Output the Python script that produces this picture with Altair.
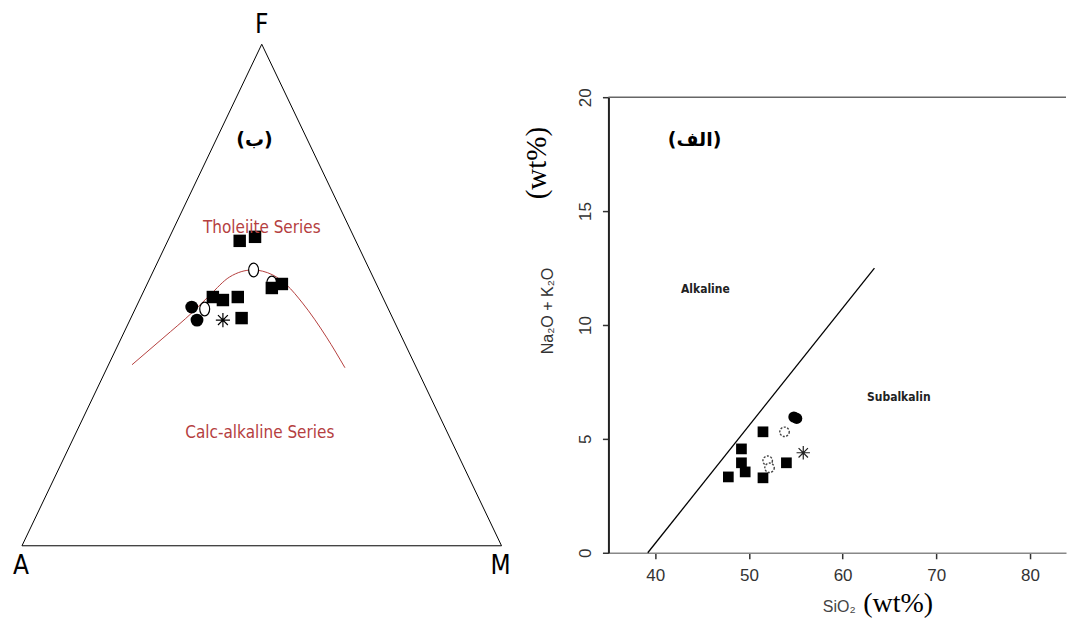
import altair as alt
import pandas as pd

# ---------------- AFM ternary diagram (percent A, F, M) ----------------
# Tholeiitic / calc-alkaline boundary curve
curve_A = [59.0, 49.9, 41.1, 35.8, 29.9, 24.4, 20.7, 18.8, 17.3, 15.7, 14.9]
curve_F = [36.1, 41.4, 46.6, 50.0, 53.6, 55.0, 54.0, 52.0, 48.4, 41.6, 35.5]
curve_M = [4.9, 8.7, 12.3, 14.2, 16.5, 20.6, 25.3, 29.2, 34.3, 42.7, 49.6]

# samples
sq_A = [24.2, 20.6, 22.2, 19.7, 35.4, 33.6, 30.2, 31.5]
sq_F = [60.8, 61.6, 51.4, 52.2, 49.6, 49.0, 49.6, 45.4]
sq_M = [15.0, 17.8, 26.4, 28.1, 15.0, 17.4, 20.2, 23.1]

dot_A = [40.8, 41.0]
dot_F = [47.6, 45.0]
dot_M = [11.6, 14.0]

ring_A = [21.7, 24.2, 38.3]
ring_F = [52.4, 55.0, 47.2]
ring_M = [25.9, 20.8, 14.5]

star_A = [35.6]
star_F = [45.0]
star_M = [19.4]

# triangle corners A -> M -> F -> A
tri_A = [100, 0, 0, 100]
tri_F = [0, 0, 100, 0]
tri_M = [0, 100, 0, 0]

# ---------------- SiO2 vs total alkali diagram ----------------
sq_si = [51.5, 49.2, 49.2, 49.6, 54.0, 47.8, 51.5]
sq_alk = [5.31, 4.56, 3.95, 3.55, 3.95, 3.33, 3.29]
dot_si = [54.8, 55.1]
dot_alk = [5.96, 5.90]
ring_si = [53.8, 52.0, 52.2]
ring_alk = [5.31, 4.04, 3.73]
star_si = [55.8]
star_alk = [4.39]
divide_si = [39.2, 63.4]
divide_alk = [0.0, 12.5]

x_ticks = [40, 50, 60, 70, 80]
y_ticks = [0, 5, 10, 15, 20]

NARROW = "Liberation Sans Narrow, DejaVu Sans Condensed, sans-serif"
SANS = "Liberation Sans, Arial, sans-serif"
SERIF = "Liberation Serif, DejaVu Serif, serif"
ARABIC = "DejaVu Sans, Noto Sans, sans-serif"
RED = "#b5403f"

STAR = "M0,-1L0,1M-1,0L1,0M-0.7,-0.7L0.7,0.7M-0.7,0.7L0.7,-0.7"
OVAL = "M0,-1A0.72,1 0 1,0 0,1A0.72,1 0 1,0 0,-1Z"


def afm(A, F, M):
    df = pd.DataFrame({"A": A, "F": F, "M": M})
    tot = df["A"] + df["F"] + df["M"]
    df["x"] = (df["M"] + df["F"] / 2) / tot
    df["y"] = df["F"] / tot
    df["o"] = range(len(df))
    return df


xs = alt.Scale(domain=[0, 1], range=[22, 502], nice=False, zero=False)
ys = alt.Scale(domain=[0, 1], range=[546, 44], nice=False, zero=False)
X = alt.X("x:Q", scale=xs, axis=None)
Y = alt.Y("y:Q", scale=ys, axis=None)

tri = alt.Chart(afm(tri_A, tri_F, tri_M)).mark_line(
    color="black", strokeWidth=1, strokeJoin="miter"
).encode(x=X, y=Y, order="o:Q")

curve = alt.Chart(afm(curve_A, curve_F, curve_M)).mark_line(
    color=RED, strokeWidth=1, interpolate="monotone"
).encode(x=X, y=Y, order="o:Q")

rings_l = alt.Chart(afm(ring_A, ring_F, ring_M)).mark_point(
    shape=OVAL, size=190, filled=True, fill="white", stroke="black",
    strokeWidth=1.2, opacity=1
).encode(x=X, y=Y)

dots_l = alt.Chart(afm(dot_A, dot_F, dot_M)).mark_point(
    shape="circle", size=165, filled=True, color="black", opacity=1
).encode(x=X, y=Y)

squares_l = alt.Chart(afm(sq_A, sq_F, sq_M)).mark_point(
    shape="square", size=155, filled=True, color="black", opacity=1
).encode(x=X, y=Y)

star_l = alt.Chart(afm(star_A, star_F, star_M)).mark_point(
    shape=STAR, size=200, filled=False, stroke="black", strokeWidth=1.2,
    opacity=1
).encode(x=X, y=Y)

corner_style = dict(font=NARROW, fontSize=26, color="black")
top_corner = alt.Chart(pd.DataFrame({"x": [0.5], "y": [1.0], "label": ["F"]})).mark_text(
    dy=-19, **corner_style
).encode(x=X, y=Y, text="label:N")
base_corners = alt.Chart(pd.DataFrame({"x": [0.0, 1.0], "y": [0.0, 0.0], "label": ["A", "M"]})).mark_text(
    dy=20, dx=-1, **corner_style
).encode(x=X, y=Y, text="label:N")

series_df = pd.DataFrame({
    "x": [0.5, 0.496],
    "y": [0.6335, 0.2251],
    "label": ["Tholeiite Series", "Calc-alkaline Series"],
})
series = alt.Chart(series_df).mark_text(
    font=NARROW, fontSize=17, color=RED
).encode(x=X, y=Y, text="label:N")

tag_b = alt.Chart(pd.DataFrame({"x": [0.485], "y": [0.81], "label": ["(ب)"]})).mark_text(
    font=ARABIC, fontSize=19, fontWeight="bold", color="black"
).encode(x=X, y=Y, text="label:N")

afm_panel = alt.layer(
    tri, curve, rings_l, dots_l, squares_l, star_l, top_corner, base_corners,
    series, tag_b
).properties(width=560, height=600)

# ---------------- right panel ----------------
xr = alt.Scale(domain=[35, 83.85], nice=False, zero=False)
yr = alt.Scale(domain=[0, 20], range=[553, 97], nice=False, zero=False)
XR = alt.X(
    "si:Q", scale=xr,
    axis=alt.Axis(
        values=x_ticks, title=None, grid=False, tickSize=6, labelPadding=9,
        labelFont=SANS, labelFontSize=17, labelColor="#333", tickColor="#333",
        domainColor="#888", domainWidth=1.5, tickWidth=1.5
    ),
)
YR = alt.Y(
    "alk:Q", scale=yr,
    axis=alt.Axis(
        values=y_ticks, title=None, grid=False, tickSize=6, labelPadding=12,
        labelAngle=270, labelAlign="center", labelBaseline="alphabetic",
        labelFont=SANS, labelFontSize=17, labelColor="#333", tickColor="#333",
        domainColor="#222", domainWidth=2, tickWidth=1.5
    ),
)


def tas(si, alk):
    return pd.DataFrame({"si": si, "alk": alk, "o": range(len(si))})


top_line = alt.Chart(tas([35, 83.85], [20, 20])).mark_line(
    color="#666", strokeWidth=1.5
).encode(x=XR, y=YR, order="o:Q")

divide = alt.Chart(tas(divide_si, divide_alk)).mark_line(
    color="black", strokeWidth=1.3
).encode(x=XR, y=YR, order="o:Q")

rings_r = alt.Chart(tas(ring_si, ring_alk)).mark_point(
    shape="circle", size=90, filled=True, fill="white", stroke="#444",
    strokeWidth=1.4, strokeDash=[2, 1.5], opacity=1
).encode(x=XR, y=YR)

squares_r = alt.Chart(tas(sq_si, sq_alk)).mark_point(
    shape="square", size=115, filled=True, color="black", opacity=1
).encode(x=XR, y=YR)

dots_r = alt.Chart(tas(dot_si, dot_alk)).mark_point(
    shape="circle", size=125, filled=True, color="black", opacity=1
).encode(x=XR, y=YR)

star_r = alt.Chart(tas(star_si, star_alk)).mark_point(
    shape=STAR, size=180, filled=False, stroke="#222", strokeWidth=1.2,
    opacity=1
).encode(x=XR, y=YR)

field_df = pd.DataFrame({
    "si": [45.35, 66.0],
    "alk": [11.58, 6.84],
    "label": ["Alkaline", "Subalkalin"],
})
fields = alt.Chart(field_df).mark_text(
    font=NARROW, fontSize=12, fontWeight="bold", color="#222"
).encode(x=XR, y=YR, text="label:N")

tag_a = alt.Chart(pd.DataFrame({"si": [44.2], "alk": [18.1], "label": ["(الف)"]})).mark_text(
    font=ARABIC, fontSize=19, fontWeight="bold", color="black"
).encode(x=XR, y=YR, text="label:N")

# axis titles
ytitle_sans = alt.Chart(pd.DataFrame({"t": ["Na₂O + K₂O"]})).mark_text(
    font=SANS, fontSize=16, color="#333", angle=270
).encode(x=alt.value(-60), y=alt.value(311), text="t:N")
ytitle_unit = alt.Chart(pd.DataFrame({"t": ["(wt%)"]})).mark_text(
    font=SERIF, fontSize=29, color="black", angle=270
).encode(x=alt.value(-71), y=alt.value(163), text="t:N")
xtitle_sans = alt.Chart(pd.DataFrame({"t": ["SiO₂"]})).mark_text(
    font=SANS, fontSize=16, color="#444", align="center"
).encode(x=alt.value(231), y=alt.value(607), text="t:N")
xtitle_unit = alt.Chart(pd.DataFrame({"t": ["(wt%)"]})).mark_text(
    font=SERIF, fontSize=28, color="black", align="center"
).encode(x=alt.value(290), y=alt.value(604), text="t:N")

tas_panel = alt.layer(
    top_line, divide, rings_r, squares_r, dots_r, star_r, fields, tag_a,
    ytitle_sans, ytitle_unit, xtitle_sans, xtitle_unit
).properties(width=458, height=553)

chart = alt.hconcat(
    afm_panel, tas_panel, spacing=49, bounds="flush"
).properties(
    padding=0, background="white"
).configure_view(strokeWidth=0)

chart.save("out.html", embed_options={"renderer": "svg", "actions": False})
